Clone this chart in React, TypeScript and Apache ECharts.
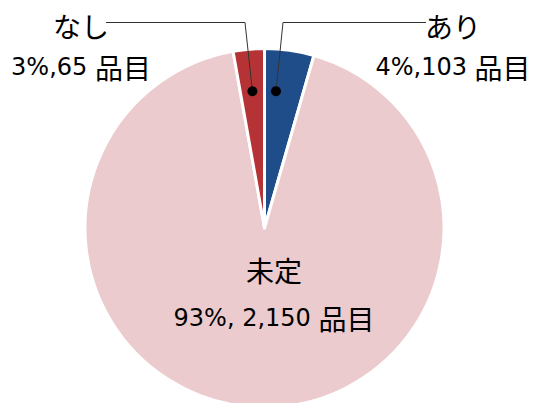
import React, { useEffect, useRef } from 'react';
import * as echarts from 'echarts';

const categories = ['あり', '未定', 'なし'];
const values = [103, 2150, 65];
const colors = ['#1F4D8A', '#EBCBCD', '#B53335'];

const CX = 264.5;
const CY = 228;
const R = 179.5;
const LATIN = "'DejaVu Sans', 'Noto Sans CJK JP', sans-serif";
const CJK = "'Noto Sans CJK JP', sans-serif";

const LABEL_POS = [
  { x: 453, y: 46.5 },
  { x: 274, y: 294 },
  { x: 81, y: 46.5 },
];

const LEADERS = [
  { index: 0, frac: 0.3, corner: [283, 22.5], end: [426, 22.5] },
  { index: 2, frac: 0.5, corner: [245, 22.5], end: [106, 22.5] },
];

function anchorPoint(i: number, frac: number): number[] {
  const total = values.reduce((a, b) => a + b, 0);
  let cum = 0;
  for (let k = 0; k < i; k++) cum += values[k];
  const f = (cum + values[i] * frac) / total;
  const t = f * Math.PI * 2;
  const r = R * 0.765;
  return [CX + r * Math.sin(t), CY - r * Math.cos(t)];
}

function fmtLabel(name: string, value: number, percent: number): string {
  const pct = Math.round(percent);
  const sep = name === '未定' ? ', ' : ',';
  return `{k|${name}}\n{n|${pct}%${sep}${value.toLocaleString('en-US')} }{k|品目}`;
}

export default function App() {
  const ref = useRef<HTMLDivElement>(null);
  useEffect(() => {
    if (!ref.current) return;
    const chart = echarts.init(ref.current, null, { renderer: 'svg' });
    const graphics: any[] = [];
    LEADERS.forEach((l) => {
      const a = anchorPoint(l.index, l.frac);
      graphics.push({
        type: 'polyline',
        z: 100,
        shape: { points: [a, l.corner, l.end] },
        style: { stroke: '#333', lineWidth: 1, fill: null },
        silent: true,
      });
      graphics.push({
        type: 'circle',
        z: 101,
        shape: { cx: a[0], cy: a[1], r: 5 },
        style: { fill: '#000' },
        silent: true,
      });
    });
    chart.setOption({
      animation: false,
      backgroundColor: '#fff',
      graphic: graphics,
      series: [
        {
          type: 'pie',
          center: [CX, CY],
          radius: [0, R],
          startAngle: 90,
          clockwise: true,
          avoidLabelOverlap: false,
          emphasis: { disabled: true },
          itemStyle: { borderColor: '#fff', borderWidth: 3 },
          label: {
            show: true,
            position: 'inside',
            color: '#000',
            formatter: (p: any) => fmtLabel(p.name, p.value, p.percent),
            rich: {
              k: { fontFamily: CJK, fontSize: 28, lineHeight: 41, color: '#000' },
              n: { fontFamily: LATIN, fontSize: 24, lineHeight: 41, color: '#000' },
            },
          },
          labelLine: { show: false },
          labelLayout: (p: any) => ({
            x: LABEL_POS[p.dataIndex].x,
            y: LABEL_POS[p.dataIndex].y,
            align: 'center',
            verticalAlign: 'middle',
          }),
          data: categories.map((name, i) => ({
            name,
            value: values[i],
            itemStyle: { color: colors[i] },
            label:
              name === '未定'
                ? { rich: { k: { lineHeight: 48 }, n: { lineHeight: 48 } } }
                : undefined,
          })),
        },
      ],
    });
    return () => chart.dispose();
  }, []);
  return (
    <div
      ref={ref}
      style={{ position: 'absolute', left: 0, top: 0, width: 534, height: 403 }}
    />
  );
}
